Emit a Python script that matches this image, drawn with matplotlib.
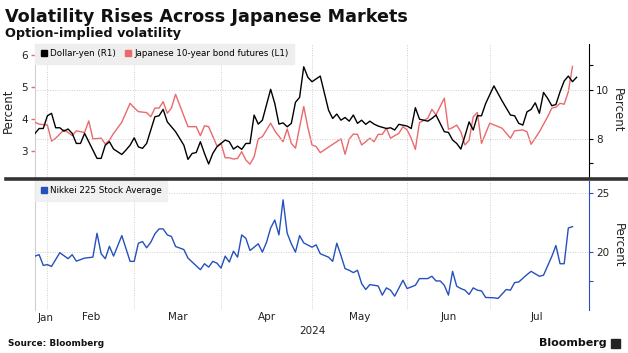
import matplotlib
matplotlib.use("Agg")
import matplotlib.pyplot as plt
from matplotlib.lines import Line2D
from matplotlib.patches import Rectangle
import pandas as pd

plt.rcParams['font.family'] = ['DejaVu Sans']

# ---- data (x = trading-day index counted from 2024-01-29) ----
START_DATE = "2024-01-29"
LAST_MONTH_END = "2024-07-31"
XMAX = 134  # right edge of the plot, in trading days

usdjpy_day = [0, 1, 2, 3, 4, 5, 6, 7, 8, 9, 10, 11, 12, 13, 15, 16, 17, 18, 19, 21,
              22, 23, 24, 25, 26, 27, 29, 30, 31, 32, 34, 36, 37, 38, 39, 40, 41, 42, 43, 44,
              46, 47, 48, 49, 50, 51, 52, 53, 54, 55, 57, 58, 59, 60, 61, 62, 63, 64, 65, 66,
              67, 69, 71, 72, 73, 74, 75, 76, 77, 78, 79, 80, 81, 82, 83, 85, 86, 87, 88, 90,
              91, 92, 93, 95, 96, 97, 99, 100, 101, 102, 103, 104, 105, 106, 107, 108, 109, 111, 113, 115,
              116, 117, 118, 119, 120, 121, 122, 123, 124, 125, 126, 127, 128, 129, 130, 131]
usdjpy_vol = [8.22, 8.42, 8.42, 8.94, 9.04, 8.45, 8.45, 8.31, 8.40, 8.22, 7.81, 7.81, 8.22, 7.88, 7.20, 7.20, 7.74, 7.88, 7.58, 7.36,
              7.54, 7.74, 8.04, 7.67, 7.61, 7.81, 8.90, 8.94, 9.20, 8.69, 8.29, 7.74, 7.16, 7.40, 7.44, 7.88, 7.40, 6.97, 7.40, 7.67,
              7.95, 7.88, 7.58, 7.70, 7.57, 7.81, 7.81, 8.97, 8.60, 8.76, 10.02, 9.44, 8.60, 8.65, 8.49, 8.63, 9.49, 9.69, 10.94, 10.51,
              10.33, 10.56, 9.17, 8.83, 9.01, 8.76, 8.87, 8.72, 8.97, 8.63, 8.76, 8.59, 8.72, 8.60, 8.52, 8.42, 8.45, 8.36, 8.59, 8.52,
              8.42, 9.27, 8.80, 8.72, 8.83, 8.97, 8.29, 8.26, 7.95, 7.81, 7.58, 8.12, 8.69, 8.36, 8.94, 8.94, 9.44, 10.16, 9.54, 8.97,
              8.94, 8.63, 8.56, 9.10, 9.20, 9.47, 9.04, 9.89, 9.65, 9.35, 9.40, 9.92, 10.36, 10.56, 10.33, 10.51]

jgb_day = [0, 1, 3, 4, 5, 7, 8, 9, 10, 12, 13, 14, 16, 17, 18, 19, 21, 23, 24, 25,
           27, 28, 29, 30, 31, 32, 33, 34, 37, 39, 40, 41, 42, 44, 45, 46, 47, 48, 49, 50,
           51, 52, 53, 54, 55, 57, 58, 60, 61, 62, 63, 65, 66, 67, 68, 69, 74, 75, 76, 77,
           78, 79, 80, 81, 82, 83, 84, 85, 86, 87, 88, 89, 90, 91, 92, 93, 95, 96, 97, 99,
           100, 101, 102, 103, 104, 105, 106, 107, 108, 110, 113, 115, 116, 118, 119, 120, 122, 124, 125, 126,
           127, 128, 129, 130]
jgb_vol = [3.89, 3.83, 3.80, 3.30, 3.39, 3.65, 3.57, 3.47, 3.62, 3.57, 3.93, 3.37, 3.39, 3.21, 3.33, 3.54, 3.89, 4.48, 4.34, 4.22,
           4.19, 4.06, 4.33, 4.33, 4.53, 4.17, 4.33, 4.76, 3.75, 3.75, 3.47, 3.78, 3.75, 3.15, 3.23, 2.78, 2.78, 2.74, 2.76, 2.97,
           2.71, 2.58, 2.81, 3.37, 3.44, 3.86, 3.62, 3.28, 3.68, 3.23, 3.08, 4.38, 3.72, 3.18, 3.13, 2.94, 3.37, 2.89, 3.36, 3.52,
           3.51, 3.18, 3.28, 3.39, 3.28, 3.51, 3.51, 3.70, 3.39, 3.47, 3.54, 3.75, 3.65, 3.39, 3.04, 3.88, 4.01, 4.29, 4.12, 4.64,
           3.67, 3.72, 3.80, 3.59, 3.18, 3.33, 4.06, 4.19, 3.23, 3.86, 3.70, 3.39, 3.62, 3.65, 3.59, 3.20, 3.59, 4.06, 4.33, 4.36,
           4.48, 4.45, 4.84, 5.63]

nikkei_day = [0, 1, 2, 3, 4, 6, 8, 9, 10, 12, 14, 15, 16, 17, 18, 19, 21, 23, 24, 25,
              26, 27, 28, 29, 30, 31, 32, 33, 34, 36, 37, 40, 41, 42, 43, 44, 45, 46, 47, 48,
              49, 50, 51, 52, 53, 54, 55, 56, 57, 58, 59, 60, 61, 62, 63, 64, 65, 67, 68, 69,
              71, 72, 73, 74, 75, 76, 77, 78, 79, 80, 81, 83, 84, 85, 86, 87, 89, 90, 92, 93,
              95, 96, 97, 98, 99, 100, 101, 102, 103, 104, 105, 106, 107, 108, 109, 111, 112, 114, 115, 116,
              117, 119, 120, 122, 123, 125, 126, 127, 128, 129, 130]
nikkei_vol = [19.63, 19.75, 18.84, 18.90, 18.75, 19.92, 19.41, 19.75, 19.20, 19.46, 19.54, 21.58, 19.83, 19.41, 20.47, 19.63, 21.38, 19.18, 19.18, 20.73,
              20.87, 20.34, 20.81, 21.53, 21.95, 21.95, 21.44, 21.30, 20.45, 20.19, 19.46, 18.47, 18.98, 18.69, 19.18, 19.03, 18.61, 19.63, 19.12, 20.05,
              19.54, 21.44, 21.15, 20.11, 20.39, 20.68, 19.97, 20.81, 22.03, 22.71, 21.44, 24.43, 21.58, 20.68, 19.97, 21.38, 20.76, 20.39, 20.59, 19.83,
              19.54, 19.18, 20.73, 19.69, 18.56, 18.42, 18.22, 18.42, 17.29, 16.78, 17.20, 17.08, 16.30, 16.92, 16.72, 16.21, 17.57, 16.86, 17.14, 17.71,
              17.71, 17.91, 17.51, 17.51, 17.14, 16.30, 18.33, 17.06, 16.86, 16.72, 16.36, 16.92, 16.72, 16.66, 16.10, 16.07, 16.02, 16.78, 16.72, 17.37,
              17.42, 18.05, 18.33, 17.91, 18.00, 19.60, 20.53, 18.98, 18.98, 22.03, 22.14]

month_labels = ["Jan", "Feb", "Mar", "Apr", "May", "Jun", "Jul"]
year_label = "2024"

BLACK = "#000000"
PINK = "#ea6a6c"
BLUE = "#2550bd"
GRID = "#cfcfcf"
LEGBG = "#eeeeee"

W, H = 628, 353
fig = plt.figure(figsize=(W / 100, H / 100), dpi=100)


def fx(px):
    return px / W


def fy(py):
    return 1 - py / H


# trading-day calendar -> month boundaries
bdays = pd.bdate_range(START_DATE, LAST_MONTH_END)
month_starts = [i for i in range(1, len(bdays)) if bdays[i].month != bdays[i - 1].month]
bounds = [0] + month_starts + [len(bdays)]

left, right = fx(35), fx(589)
ax1 = fig.add_axes([left, fy(177), right - left, fy(44) - fy(177)])
ax1r = ax1.twinx()
ax2 = fig.add_axes([left, fy(310), right - left, fy(181) - fy(310)])

# ---- top panel ----
ax1.plot(jgb_day, jgb_vol, color=PINK, lw=1.0, zorder=3)
ax1r.plot(usdjpy_day, usdjpy_vol, color=BLACK, lw=1.0, zorder=3)
ax1.set_xlim(0, XMAX)
ax1.set_ylim(2.18, 6.33)
ax1r.set_ylim(6.44, 11.87)

ax1.set_yticks([3, 4, 5, 6])
ax1.tick_params(axis='y', colors=PINK, length=3, width=1, labelsize=7.5, labelcolor='#222222', pad=2)
ax1r.set_yticks([7, 8, 10, 11])
ax1r.set_yticklabels(['', '8', '10', ''])
ax1r.tick_params(axis='y', colors=BLACK, length=3, width=0.8, labelsize=7.5, labelcolor='#222222', pad=2)
for a in (ax1, ax1r):
    a.set_xticks([])
    for s in ('top', 'bottom'):
        a.spines[s].set_visible(False)
ax1.spines['left'].set_color('#d0d0d0')
ax1.spines['right'].set_visible(False)
ax1r.spines['left'].set_visible(False)
ax1r.spines['right'].set_color(BLACK)
ax1r.spines['right'].set_linewidth(0.8)

for v in (8, 10):
    ax1r.axhline(v, color=GRID, lw=0.7, ls=(0, (1, 1.5)), zorder=1)
for b in month_starts:
    ax1.axvline(b, color=GRID, lw=0.7, ls=(0, (1, 1.5)), zorder=1)

ax1.set_ylabel("Percent", fontsize=8.5, labelpad=5, color='#222222')
ax1r.set_ylabel("Percent", fontsize=8.5, rotation=270, labelpad=11, color='#222222')

h1 = [Line2D([], [], marker='s', ls='none', color=BLACK, markersize=4.5),
      Line2D([], [], marker='s', ls='none', color=PINK, markersize=4.5)]
leg1 = ax1r.legend(h1, ["Dollar-yen (R1)", "Japanese 10-year bond futures (L1)"],
                   loc='upper left', bbox_to_anchor=(0, 1), ncol=2, fontsize=6.3,
                   frameon=True, fancybox=False, borderaxespad=0, handlelength=0.8,
                   handletextpad=0.3, columnspacing=1.0, borderpad=0.6)
leg1.get_frame().set_facecolor(LEGBG)
leg1.get_frame().set_edgecolor(LEGBG)
leg1.get_frame().set_alpha(1)
leg1.set_zorder(10)

# ---- bottom panel ----
ax2.plot(nikkei_day, nikkei_vol, color=BLUE, lw=1.0, zorder=3)
ax2.set_xlim(0, XMAX)
ax2.set_ylim(15.03, 26.04)
ax2.yaxis.tick_right()
ax2.yaxis.set_label_position('right')
ax2.set_yticks([17.5, 20, 25])
ax2.set_yticklabels(['', '20', '25'])
ax2.tick_params(axis='y', colors=BLUE, length=3, width=0.8, labelsize=7.5, labelcolor='#222222', pad=2)
ax2.spines['top'].set_visible(False)
ax2.spines['bottom'].set_visible(False)
ax2.spines['left'].set_color('#d0d0d0')
ax2.spines['right'].set_color(BLUE)
ax2.spines['right'].set_linewidth(0.8)
ax2.set_ylabel("Percent", fontsize=8.5, rotation=270, labelpad=11, color='#222222')
for v in (20, 25):
    ax2.axhline(v, color=GRID, lw=0.7, ls=(0, (1, 1.5)), zorder=1)
for b in month_starts:
    ax2.axvline(b, color=GRID, lw=0.7, ls=(0, (1, 1.5)), zorder=1)

# month labels centred in each month, first one clamped to the left edge
centers = [(bounds[i] + bounds[i + 1]) / 2 for i in range(len(bounds) - 1)]
ax2.set_xticks(centers[1:])
ax2.set_xticklabels(month_labels[1:])
ax2.tick_params(axis='x', length=0, labelsize=7.5, labelcolor='#222222', pad=1.5)
ax2.text(0.7, -0.023, month_labels[0], transform=ax2.get_xaxis_transform(),
         ha='left', va='top', fontsize=7.5, color='#222222')
ax2.text(0.5, -0.125, year_label, transform=ax2.transAxes, ha='center', va='top',
         fontsize=7.5, color='#222222')

h2 = [Line2D([], [], marker='s', ls='none', color=BLUE, markersize=4.5)]
leg2 = ax2.legend(h2, ["Nikkei 225 Stock Average"], loc='upper left', bbox_to_anchor=(0, 1),
                  fontsize=6.3, frameon=True, fancybox=False, borderaxespad=0, handlelength=0.8,
                  handletextpad=0.3, borderpad=0.6)
leg2.get_frame().set_facecolor(LEGBG)
leg2.get_frame().set_edgecolor(LEGBG)
leg2.set_zorder(10)

# separator bar
fig.add_artist(Line2D([fx(6), fx(628)], [fy(179), fy(179)], color='#333333', lw=2.6,
                      transform=fig.transFigure))

# titles & footer
fig.text(fx(5), fy(17), "Volatility Rises Across Japanese Markets", fontsize=12.7,
         fontweight='bold', va='center', ha='left', color='#111111')
fig.text(fx(5), fy(33.5), "Option-implied volatility", fontsize=9.2,
         fontweight='bold', va='center', ha='left', color='#111111')
fig.text(fx(8), fy(344), "Source: Bloomberg", fontsize=6.4, fontweight='bold',
         va='center', ha='left', color='#111111')
fig.text(fx(607), fy(343), "Bloomberg", fontsize=8, fontweight='bold',
         va='center', ha='right', color='#111111')
fig.add_artist(Rectangle((fx(611), fy(348)), fx(9), fy(339) - fy(348), color='#222222',
                         transform=fig.transFigure))

fig.savefig("out.png", dpi=100)
